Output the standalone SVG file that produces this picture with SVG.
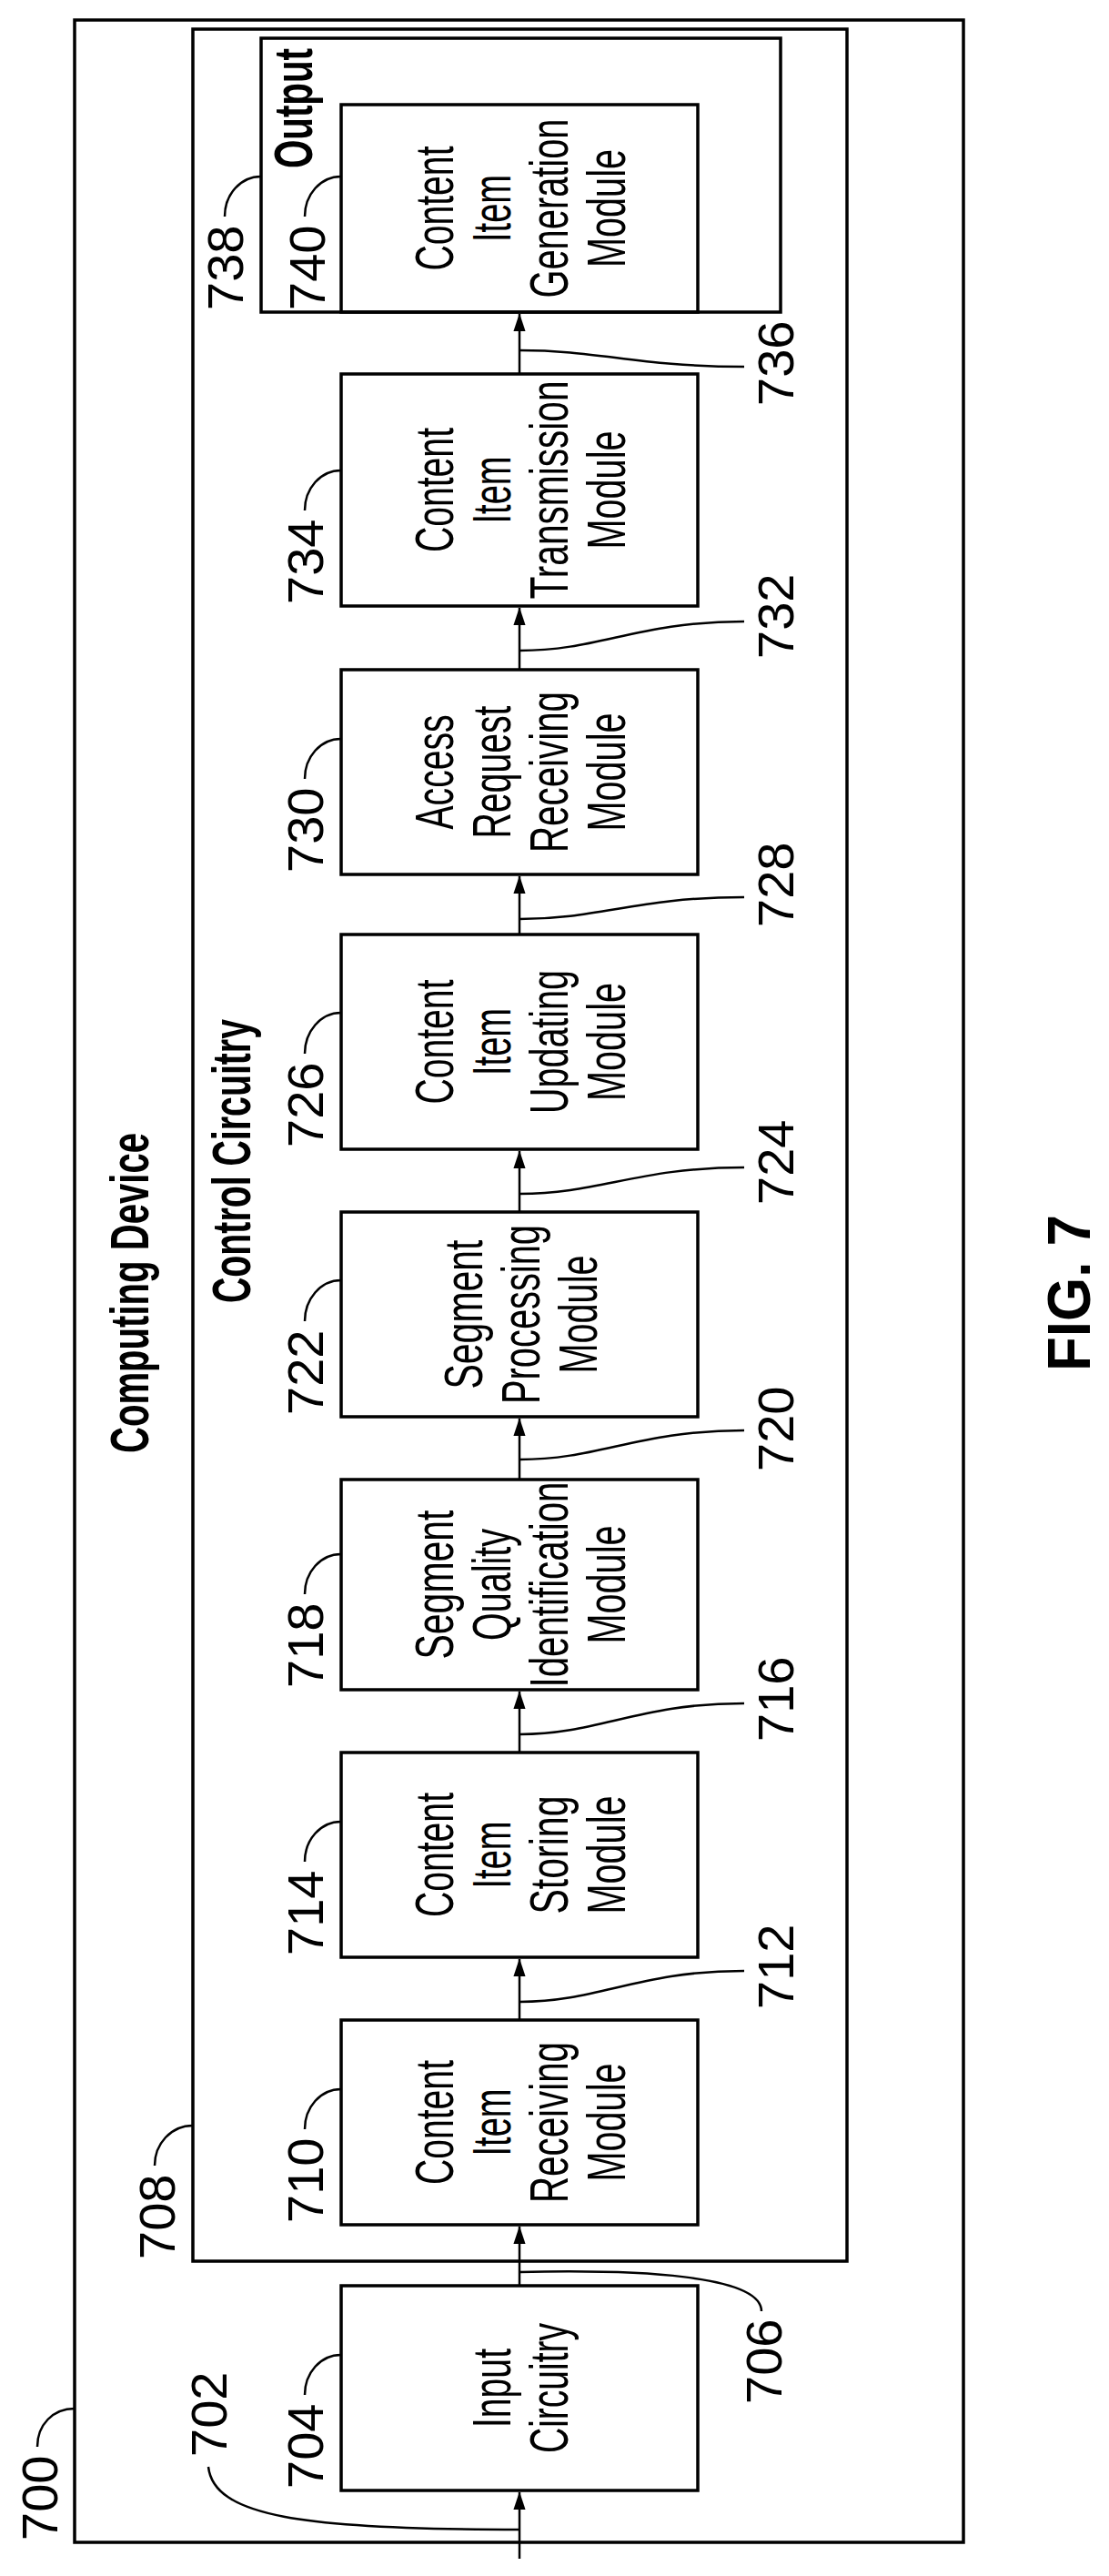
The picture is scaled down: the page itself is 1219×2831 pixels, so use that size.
<svg xmlns="http://www.w3.org/2000/svg" width="1219" height="2831" viewBox="0 0 1219 2831">
<style>
.box{fill:none;stroke:#000;stroke-width:3.5}
.ln{fill:none;stroke:#000;stroke-width:2.5}
.t{font-family:"Liberation Sans",Arial,sans-serif;font-size:60px;fill:#000}
.m{text-anchor:middle}
.lb{font-family:"Liberation Sans",Arial,sans-serif;font-size:56px;fill:#000}
.b{font-family:"Liberation Sans",Arial,sans-serif;font-weight:bold;font-size:60px;fill:#000}
</style>
<defs>
<marker id="ar" markerWidth="20" markerHeight="30" refX="10" refY="30" orient="auto" markerUnits="userSpaceOnUse" viewBox="0 0 20 30">
<path d="M0,30 L10,0 L20,30 Z" fill="#000" transform="rotate(90 10 15)"/>
</marker>
<marker id="a" markerWidth="20" markerHeight="30" refX="29" refY="10" orient="auto" markerUnits="userSpaceOnUse" viewBox="0 0 30 20">
<path d="M0,0 L30,10 L0,20 Z" fill="#000"/>
</marker>
</defs>

<g id="n700"><rect class="box" x="82" y="22" width="977" height="2772"/>
<text class="b" transform="translate(163,1597) rotate(-90)" textLength="352" lengthAdjust="spacingAndGlyphs">Computing Device</text></g>
<g id="n708"><rect class="box" x="212" y="32" width="719" height="2453"/>
<text class="b" transform="translate(275,1432) rotate(-90)" textLength="312" lengthAdjust="spacingAndGlyphs">Control Circuitry</text></g>
<g id="n738"><rect class="box" x="287" y="42" width="571" height="301"/>
<text class="b" transform="translate(343,185) rotate(-90)" textLength="132" lengthAdjust="spacingAndGlyphs">Output</text></g>

<g id="n704"><rect class="box" x="375" y="2512" width="392" height="225"/>
<g class="t m" transform="translate(0,2624.5)">
<text transform="translate(561,0) rotate(-90)" textLength="87" lengthAdjust="spacingAndGlyphs">Input</text>
<text transform="translate(624,0) rotate(-90)" textLength="143" lengthAdjust="spacingAndGlyphs">Circuitry</text></g></g>

<g id="n710"><rect class="box" x="375" y="2220" width="392" height="225"/>
<g class="t m" transform="translate(0,2332.5)">
<text transform="translate(498,0) rotate(-90)" textLength="137" lengthAdjust="spacingAndGlyphs">Content</text>
<text transform="translate(561,0) rotate(-90)" textLength="74" lengthAdjust="spacingAndGlyphs">Item</text>
<text transform="translate(624,0) rotate(-90)" textLength="177" lengthAdjust="spacingAndGlyphs">Receiving</text>
<text transform="translate(687,0) rotate(-90)" textLength="130" lengthAdjust="spacingAndGlyphs">Module</text></g></g>

<g id="n714"><rect class="box" x="375" y="1926" width="392" height="225"/>
<g class="t m" transform="translate(0,2038.5)">
<text transform="translate(498,0) rotate(-90)" textLength="137" lengthAdjust="spacingAndGlyphs">Content</text>
<text transform="translate(561,0) rotate(-90)" textLength="74" lengthAdjust="spacingAndGlyphs">Item</text>
<text transform="translate(624,0) rotate(-90)" textLength="130" lengthAdjust="spacingAndGlyphs">Storing</text>
<text transform="translate(687,0) rotate(-90)" textLength="130" lengthAdjust="spacingAndGlyphs">Module</text></g></g>

<g id="n718"><rect class="box" x="375" y="1626" width="392" height="231"/>
<g class="t m" transform="translate(0,1741.5)">
<text transform="translate(498,0) rotate(-90)" textLength="164" lengthAdjust="spacingAndGlyphs">Segment</text>
<text transform="translate(561,0) rotate(-90)" textLength="123" lengthAdjust="spacingAndGlyphs">Quality</text>
<text transform="translate(624,0) rotate(-90)" textLength="226" lengthAdjust="spacingAndGlyphs">Identification</text>
<text transform="translate(687,0) rotate(-90)" textLength="130" lengthAdjust="spacingAndGlyphs">Module</text></g></g>

<g id="n722"><rect class="box" x="375" y="1332" width="392" height="225"/>
<g class="t m" transform="translate(0,1444.5)">
<text transform="translate(530,0) rotate(-90)" textLength="164" lengthAdjust="spacingAndGlyphs">Segment</text>
<text transform="translate(593,0) rotate(-90)" textLength="197" lengthAdjust="spacingAndGlyphs">Processing</text>
<text transform="translate(656,0) rotate(-90)" textLength="130" lengthAdjust="spacingAndGlyphs">Module</text></g></g>

<g id="n726"><rect class="box" x="375" y="1027" width="392" height="236"/>
<g class="t m" transform="translate(0,1145)">
<text transform="translate(498,0) rotate(-90)" textLength="137" lengthAdjust="spacingAndGlyphs">Content</text>
<text transform="translate(561,0) rotate(-90)" textLength="74" lengthAdjust="spacingAndGlyphs">Item</text>
<text transform="translate(624,0) rotate(-90)" textLength="158" lengthAdjust="spacingAndGlyphs">Updating</text>
<text transform="translate(687,0) rotate(-90)" textLength="130" lengthAdjust="spacingAndGlyphs">Module</text></g></g>

<g id="n730"><rect class="box" x="375" y="736" width="392" height="225"/>
<g class="t m" transform="translate(0,848.5)">
<text transform="translate(498,0) rotate(-90)" textLength="126" lengthAdjust="spacingAndGlyphs">Access</text>
<text transform="translate(561,0) rotate(-90)" textLength="146" lengthAdjust="spacingAndGlyphs">Request</text>
<text transform="translate(624,0) rotate(-90)" textLength="177" lengthAdjust="spacingAndGlyphs">Receiving</text>
<text transform="translate(687,0) rotate(-90)" textLength="130" lengthAdjust="spacingAndGlyphs">Module</text></g></g>

<g id="n734"><rect class="box" x="375" y="411" width="392" height="255"/>
<g class="t m" transform="translate(0,538.5)">
<text transform="translate(498,0) rotate(-90)" textLength="137" lengthAdjust="spacingAndGlyphs">Content</text>
<text transform="translate(561,0) rotate(-90)" textLength="74" lengthAdjust="spacingAndGlyphs">Item</text>
<text transform="translate(624,0) rotate(-90)" textLength="240" lengthAdjust="spacingAndGlyphs">Transmission</text>
<text transform="translate(687,0) rotate(-90)" textLength="130" lengthAdjust="spacingAndGlyphs">Module</text></g></g>

<g id="n740"><rect class="box" x="375" y="115" width="392" height="228"/>
<g class="t m" transform="translate(0,229)">
<text transform="translate(498,0) rotate(-90)" textLength="137" lengthAdjust="spacingAndGlyphs">Content</text>
<text transform="translate(561,0) rotate(-90)" textLength="74" lengthAdjust="spacingAndGlyphs">Item</text>
<text transform="translate(624,0) rotate(-90)" textLength="197" lengthAdjust="spacingAndGlyphs">Generation</text>
<text transform="translate(687,0) rotate(-90)" textLength="130" lengthAdjust="spacingAndGlyphs">Module</text></g></g>

<g id="connectors">
<g class="ln" marker-end="url(#a)">
<line x1="571" y1="2812" x2="571" y2="2739"/>
<line x1="571" y1="2512" x2="571" y2="2447"/>
<line x1="571" y1="2220" x2="571" y2="2153"/>
<line x1="571" y1="1926" x2="571" y2="1859"/>
<line x1="571" y1="1626" x2="571" y2="1559"/>
<line x1="571" y1="1332" x2="571" y2="1265"/>
<line x1="571" y1="1027" x2="571" y2="963"/>
<line x1="571" y1="736" x2="571" y2="668"/>
<line x1="571" y1="411" x2="571" y2="345"/>
</g>
<g class="ln">
<!-- reference leaders on the connectors -->
<path d="M229,2711 C235,2765 330,2780 571,2780"/>
<path d="M571,2497 C700,2494 837,2500 837,2540"/>
<path d="M571,2200 C660,2200 700,2166 818,2166"/>
<path d="M571,1906 C660,1906 700,1872 818,1872"/>
<path d="M571,1604 C660,1604 700,1572 818,1572"/>
<path d="M571,1312 C660,1312 700,1283 818,1283"/>
<path d="M571,1010 C660,1010 700,986 818,986"/>
<path d="M571,715 C660,715 700,683 818,683"/>
<path d="M571,385 C660,385 700,403 818,403"/>
<!-- reference leaders on boxes -->
<path d="M41,2689 C41,2665 58,2647 82,2647"/>
<path d="M335,2632 C335,2608 352,2588 375,2588"/>
<path d="M170,2380 C170,2356 188,2336 212,2336"/>
<path d="M335,2340 C335,2316 352,2296 375,2296"/>
<path d="M335,2046 C335,2022 352,2002 375,2002"/>
<path d="M335,1752 C335,1728 352,1708 375,1708"/>
<path d="M335,1452 C335,1428 352,1407 375,1407"/>
<path d="M335,1158 C335,1134 352,1113 375,1113"/>
<path d="M335,856 C335,832 352,812 375,812"/>
<path d="M335,561 C335,537 352,517 375,517"/>
<path d="M247,238 C247,214 264,194 287,194"/>
<path d="M335,238 C335,214 352,194 375,194"/>
</g>
</g>

<g id="labels" class="lb">
<text transform="translate(63,2792) rotate(-90)">700</text>
<text transform="translate(249,2700) rotate(-90)">702</text>
<text transform="translate(355,2735) rotate(-90)">704</text>
<text transform="translate(859,2642) rotate(-90)">706</text>
<text transform="translate(192,2483) rotate(-90)">708</text>
<text transform="translate(355,2443) rotate(-90)">710</text>
<text transform="translate(872,2208) rotate(-90)">712</text>
<text transform="translate(355,2149) rotate(-90)">714</text>
<text transform="translate(872,1914) rotate(-90)">716</text>
<text transform="translate(355,1855) rotate(-90)">718</text>
<text transform="translate(872,1617) rotate(-90)">720</text>
<text transform="translate(355,1555) rotate(-90)">722</text>
<text transform="translate(872,1324) rotate(-90)">724</text>
<text transform="translate(355,1261) rotate(-90)">726</text>
<text transform="translate(872,1019) rotate(-90)">728</text>
<text transform="translate(355,959) rotate(-90)">730</text>
<text transform="translate(872,724) rotate(-90)">732</text>
<text transform="translate(355,664) rotate(-90)">734</text>
<text transform="translate(872,446) rotate(-90)">736</text>
<text transform="translate(267,341) rotate(-90)">738</text>
<text transform="translate(357,341) rotate(-90)">740</text>
</g>
<text class="b" style="font-size:67px" transform="translate(1198,1507) rotate(-90)" textLength="172" lengthAdjust="spacingAndGlyphs">FIG. 7</text>
</svg>
